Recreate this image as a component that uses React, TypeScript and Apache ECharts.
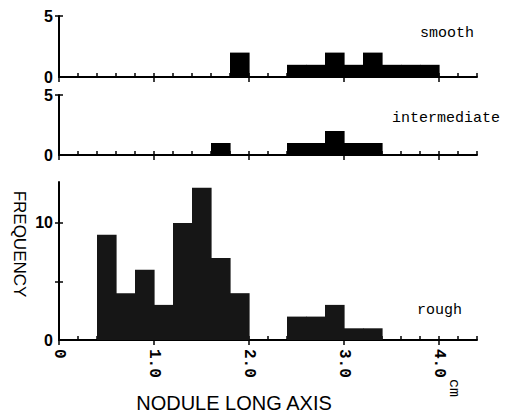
import React, { useEffect, useRef } from "react";
import * as echarts from "echarts";

// Histogram bins (cm), each 0.2 wide
const binStarts = [0.0, 0.2, 0.4, 0.6, 0.8, 1.0, 1.2, 1.4, 1.6, 1.8, 2.0, 2.2, 2.4, 2.6, 2.8, 3.0, 3.2, 3.4, 3.6, 3.8, 4.0, 4.2];
const binEnds = [0.2, 0.4, 0.6, 0.8, 1.0, 1.2, 1.4, 1.6, 1.8, 2.0, 2.2, 2.4, 2.6, 2.8, 3.0, 3.2, 3.4, 3.6, 3.8, 4.0, 4.2, 4.4];

const smoothCounts = [0, 0, 0, 0, 0, 0, 0, 0, 0, 2, 0, 0, 1, 1, 2, 1, 2, 1, 1, 1, 0, 0];
const intermediateCounts = [0, 0, 0, 0, 0, 0, 0, 0, 1, 0, 0, 0, 1, 1, 2, 1, 1, 0, 0, 0, 0, 0];
const roughCounts = [0, 0, 9, 4, 6, 3, 10, 13, 7, 4, 0, 0, 2, 2, 3, 1, 1, 0, 0, 0, 0, 0];

const panelNames = ["smooth", "intermediate", "rough"];
const xMajorTicks = [0, 1, 2, 3, 4];
const xTickLabels = ["0", "1.0", "2.0", "3.0", "4.0"];
const xMin = 0;
const xMax = 4.4;
const xMinorInterval = 0.2;
const yMaxes = [5, 5, 13.5];
const yTickValues = [[5], [5], [5, 10]];
const yLabelValues = [[0, 5], [0, 5], [0, 10]];

const xTitle = "NODULE LONG AXIS";
const yTitle = "FREQUENCY";
const xUnit = "cm";

const gridBoxes = [
  { top: 16, height: 61 },
  { top: 95, height: 60 },
  { top: 182, height: 158 },
];
const panelLabelPos = [
  [420, 33],
  [392, 118],
  [417, 310],
];

const monoFont = "'Liberation Mono', 'DejaVu Sans Mono', monospace";
const sansFont = "'Liberation Sans', Arial, sans-serif";

export default function App() {
  const ref = useRef<HTMLDivElement>(null);

  useEffect(() => {
    if (!ref.current) return;
    const chart = echarts.init(ref.current, null, { renderer: "svg" });
    const allCounts = [smoothCounts, intermediateCounts, roughCounts];

    const grids = gridBoxes.map((b) => ({
      left: 59,
      right: 33,
      top: b.top,
      height: b.height,
      containLabel: false,
    }));

    const xAxes: any[] = [];
    const yAxes: any[] = [];
    const series: any[] = [];
    const lineStyle = { color: "#000", width: 2 };
    const tickStyle = { color: "#000", width: 1.5 };

    for (let g = 0; g < 3; g++) {
      // minor ticks axis (ticks upward)
      xAxes.push({
        gridIndex: g,
        type: "value",
        position: "bottom",
        min: xMin,
        max: xMax,
        interval: xMinorInterval,
        axisLine: { show: true, onZero: false, lineStyle },
        axisTick: { show: true, inside: true, length: 4, lineStyle: tickStyle },
        axisLabel: { show: false },
        splitLine: { show: false },
      });
      // major ticks axis (ticks downward, labels)
      xAxes.push({
        gridIndex: g,
        type: "value",
        position: "bottom",
        offset: 0,
        min: xMin,
        max: xMax,
        axisLine: { show: false, onZero: false },
        axisTick: { show: true, inside: false, length: 5, customValues: xMajorTicks, lineStyle: tickStyle },
        axisLabel: {
          show: g === 2,
          customValues: xMajorTicks,
          formatter: (v: number) => {
            const i = xMajorTicks.indexOf(Math.round(v * 10) / 10);
            return i >= 0 ? xTickLabels[i] : "";
          },
          rotate: -90,
          margin: 9,
          color: "#000",
          fontFamily: monoFont,
          fontWeight: "bold",
          fontSize: 16,
        },
        splitLine: { show: false },
      });
      // y main axis
      yAxes.push({
        gridIndex: g,
        type: "value",
        position: "left",
        min: 0,
        max: yMaxes[g],
        axisLine: { show: true, onZero: false, lineStyle },
        axisTick: { show: true, inside: false, length: 4, customValues: yTickValues[g], lineStyle: tickStyle },
        axisLabel: {
          show: true,
          customValues: yLabelValues[g],
          margin: 6,
          color: "#000",
          fontFamily: sansFont,
          fontWeight: "bold",
          fontSize: 16,
        },
        splitLine: { show: false },
      });
      // y inner ticks
      yAxes.push({
        gridIndex: g,
        type: "value",
        position: "left",
        offset: 0,
        min: 0,
        max: yMaxes[g],
        axisLine: { show: false, onZero: false },
        axisTick: { show: true, inside: true, length: 4, customValues: yTickValues[g], lineStyle: tickStyle },
        axisLabel: { show: false },
        splitLine: { show: false },
      });

      const data = binStarts.map((s, i) => [s, binEnds[i], allCounts[g][i]]);
      const fill = g === 2 ? "#161616" : "#000";
      series.push({
        type: "custom",
        xAxisIndex: g * 2,
        yAxisIndex: g * 2,
        encode: { x: [0, 1], y: 2 },
        data,
        renderItem: (params: any, api: any) => {
          const x0 = api.value(0);
          const x1 = api.value(1);
          const y = api.value(2);
          if (!y) return null;
          const p0 = api.coord([x0, 0]);
          const p1 = api.coord([x1, y]);
          return {
            type: "rect",
            shape: {
              x: p0[0],
              y: p1[1],
              width: p1[0] - p0[0] + 0.6,
              height: p0[1] - p1[1],
            },
            style: { fill },
          };
        },
        z: 1,
      });
    }

    const graphic: any[] = panelNames.map((name, i) => ({
      type: "text",
      x: panelLabelPos[i][0],
      y: panelLabelPos[i][1],
      style: {
        text: name,
        fill: "#000",
        font: `15px ${monoFont}`,
        textAlign: "left",
        textVerticalAlign: "middle",
      },
    }));
    graphic.push({
      type: "text",
      x: 234,
      y: 403,
      style: {
        text: xTitle,
        fill: "#000",
        font: `20px ${sansFont}`,
        textAlign: "center",
        textVerticalAlign: "middle",
      },
    });
    graphic.push({
      type: "text",
      x: 19,
      y: 244,
      rotation: -Math.PI / 2,
      style: {
        text: yTitle,
        fill: "#000",
        font: `17px ${sansFont}`,
        textAlign: "center",
        textVerticalAlign: "middle",
      },
    });
    graphic.push({
      type: "text",
      x: 453,
      y: 388,
      rotation: -Math.PI / 2,
      style: {
        text: xUnit,
        fill: "#000",
        font: `15px ${monoFont}`,
        textAlign: "center",
        textVerticalAlign: "middle",
      },
    });

    chart.setOption({
      animation: false,
      backgroundColor: "#fff",
      grid: grids,
      xAxis: xAxes,
      yAxis: yAxes,
      series,
      graphic,
    });
    return () => chart.dispose();
  }, []);

  return (
    <div
      ref={ref}
      style={{ position: "fixed", left: 0, top: 0, width: 510, height: 416 }}
    />
  );
}
